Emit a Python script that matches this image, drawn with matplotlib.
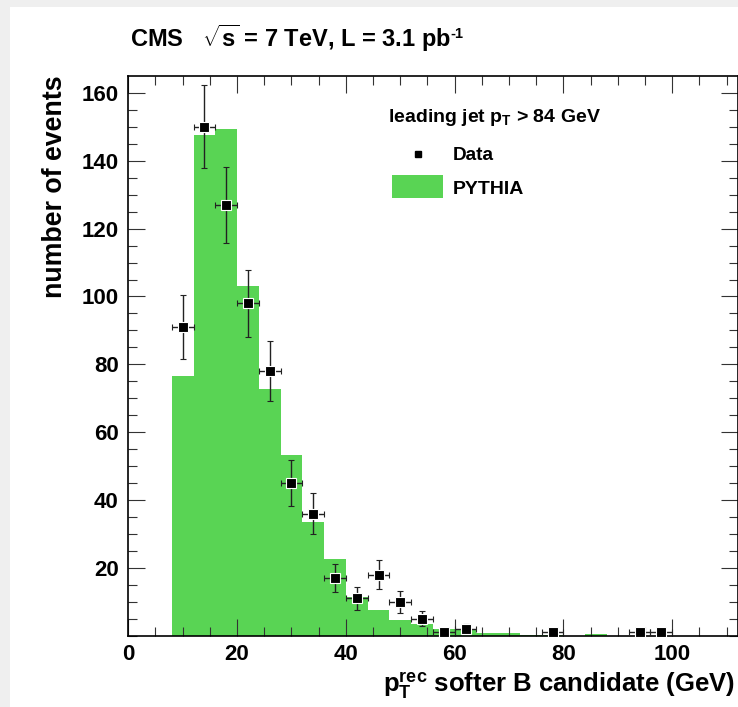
import numpy as np
import matplotlib
matplotlib.use("Agg")
import matplotlib.pyplot as plt
from matplotlib.patches import Rectangle
from matplotlib.lines import Line2D

plt.rcParams['font.family'] = ['Liberation Sans', 'DejaVu Sans']
plt.rcParams['font.weight'] = 'bold'
plt.rcParams['mathtext.fontset'] = 'custom'
plt.rcParams['mathtext.rm'] = 'Liberation Sans:bold'
plt.rcParams['mathtext.it'] = 'Liberation Sans:bold'
plt.rcParams['mathtext.bf'] = 'Liberation Sans:bold'

# ---- data ----
bin_edges = [8, 12, 16, 20, 24, 28, 32, 36, 40, 44, 48, 52, 56, 60, 64, 68, 72, 76, 80, 84, 88]
pythia_counts = [76.6, 147.5, 149.5, 103.0, 72.7, 53.3, 33.6, 22.6, 11.5, 7.5, 4.6, 3.4,
                 1.9, 1.7, 0.9, 0.9, 0.3, 0.3, 0.0, 0.4]
data_x = [10, 14, 18, 22, 26, 30, 34, 38, 42, 46, 50, 54, 58, 62, 78, 94, 98]
data_counts = [91, 150, 127, 98, 78, 45, 36, 17, 11, 18, 10, 5, 1, 2, 1, 1, 1]
bin_half_width = 2.0

green = '#59d454'

W, H = 738, 707
fig = plt.figure(figsize=(W / 100, H / 100), dpi=100)
fig.patch.set_facecolor('white')
# light grey page margins (top and left)
fig.patches.append(Rectangle((0, 1 - 7 / H), 1, 7 / H, transform=fig.transFigure,
                             facecolor='#efefef', edgecolor='none', zorder=-10))
fig.patches.append(Rectangle((0, 0), 10 / W, 1, transform=fig.transFigure,
                             facecolor='#efefef', edgecolor='none', zorder=-10))

left, right, top, bottom = 128.3, 737.5, 76.0, 635.7
ax = fig.add_axes([left / W, 1 - bottom / H, (right - left) / W, (bottom - top) / H])

ax.stairs(pythia_counts, bin_edges, fill=True, color=green, linewidth=0, zorder=1)

yerr = np.sqrt(np.array(data_counts, dtype=float))
ax.errorbar(data_x, data_counts, xerr=bin_half_width, yerr=yerr, fmt='s',
            color='black', ecolor='#222222', elinewidth=1.0, capsize=2.5, capthick=1.0,
            markersize=7, markerfacecolor='black', markeredgecolor='white',
            markeredgewidth=0.8, zorder=3)

ax.set_xlim(0, 112)
ax.set_ylim(0, 165)
ax.set_xticks([0, 20, 40, 60, 80, 100])
ax.set_xticks(np.arange(0, 112, 5), minor=True)
ax.set_yticks([20, 40, 60, 80, 100, 120, 140, 160])
ax.set_yticks(np.arange(0, 165, 5), minor=True)
ax.tick_params(which='both', direction='in', top=True, right=True, width=0.8, color='#333333')
ax.tick_params(which='major', length=12.5)
ax.tick_params(which='minor', length=6.5)
ax.tick_params(axis='x', labelsize=16, pad=6)
ax.tick_params(axis='y', labelsize=16, pad=7)
for lab in ax.get_xticklabels() + ax.get_yticklabels():
    lab.set_fontweight('bold')
for sp in ax.spines.values():
    sp.set_linewidth(1.2)

# title
title = fig.text(130 / W, 1 - 38 / H, r'CMS   $\sqrt{\mathrm{s}}$ = 7 TeV, L = 3.1 pb',
                 fontsize=17, fontweight='bold', ha='left', va='center')
fig.canvas.draw()
bb = title.get_window_extent(renderer=fig.canvas.get_renderer())
fig.text((bb.x1 - 1) / W, 1 - 27 / H, '-1', fontsize=10.5, fontweight='bold',
         ha='left', va='top')

# axis labels
fig.text(55 / W, 1 - 75 / H, 'number of events', rotation=90, fontsize=19.3,
         fontweight='bold', ha='center', va='top')
fig.text(735 / W, 1 - 693 / H, r'$\mathrm{p}_{\mathrm{T}}^{\mathrm{rec}}$ softer B candidate (GeV)',
         fontsize=18.5, fontweight='bold', ha='right', va='baseline')

# legend
fig.text(388 / W, 1 - 118 / H, r'leading jet p$_{\mathrm{T}}$ > 84 GeV', fontsize=14,
         fontweight='bold', ha='left', va='center')
fig.lines.append(Line2D([418 / W], [1 - 154 / H], transform=fig.transFigure, marker='s',
                        markersize=5, color='black', linestyle='none'))
fig.text(453 / W, 1 - 155 / H, 'Data', fontsize=13.7, fontweight='bold', ha='left', va='center')
fig.patches.append(Rectangle((392 / W, 1 - 198 / H), 51 / W, 23 / H, transform=fig.transFigure,
                             facecolor=green, edgecolor='none'))
fig.text(453 / W, 1 - 189 / H, 'PYTHIA', fontsize=14, fontweight='bold', ha='left', va='center')

fig.savefig('out.png', dpi=100)
